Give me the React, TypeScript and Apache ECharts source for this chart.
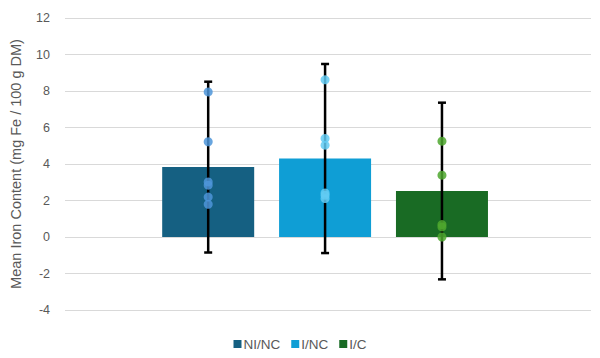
import React, { useEffect, useRef } from "react";
import * as echarts from "echarts";

const groups = ["NI/NC", "I/NC", "I/C"];
const groupX = [1, 2, 3];
const means = [3.83, 4.3, 2.52];
const errors = [4.68, 5.18, 4.84];
const barColors = ["#156082", "#0F9ED5", "#196B24"];
const pointColors = ["#4E95D9", "#61CBF3", "#4EA72E"];
const pointsNINC = [7.95, 5.22, 3.02, 2.84, 2.19, 1.79];
const pointsINC = [8.61, 5.4, 5.03, 2.41, 2.29, 2.11];
const pointsIC = [5.25, 3.39, 0.68, 0.55, 0.0];
const yTicks = [-4, -2, 0, 2, 4, 6, 8, 10, 12];

const FONT = "'Liberation Sans', Arial, sans-serif";
const TEXT = "#595959";

export default function App() {
  const ref = useRef<HTMLDivElement>(null);
  useEffect(() => {
    if (!ref.current) return;
    const chart = echarts.init(ref.current, undefined, { renderer: "svg" });
    const pointSets = [pointsNINC, pointsINC, pointsIC];
    const option: any = {
      animation: false,
      backgroundColor: "#ffffff",
      textStyle: { fontFamily: FONT },
      grid: { left: 60, right: 9, top: 18, bottom: 48 },
      xAxis: {
        type: "value",
        min: -0.225,
        max: 4.275,
        show: false,
      },
      yAxis: {
        type: "value",
        min: yTicks[0],
        max: yTicks[yTicks.length - 1],
        interval: 2,
        name: "Mean Iron Content (mg Fe / 100 g DM)",
        nameLocation: "middle",
        nameGap: 42,
        nameTextStyle: { color: TEXT, fontSize: 14.5, fontFamily: FONT },
        axisLine: { show: false },
        axisTick: { show: false },
        axisLabel: { color: TEXT, fontSize: 12.5, margin: 15, fontFamily: FONT },
        splitLine: { lineStyle: { color: "#D9D9D9", width: 1 } },
      },
      legend: {
        top: 332,
        left: "center",
        itemWidth: 8,
        itemHeight: 8,
        itemGap: 11,
        textStyle: { color: TEXT, fontSize: 13.5, fontFamily: FONT, padding: [0, 0, 0, -3] },
        data: groups.map((g, i) => ({
          name: g,
          icon: "rect",
          itemStyle: { color: barColors[i], opacity: 1 },
        })),
      },
      graphic: [
        {
          type: "line",
          shape: { x1: 0, y1: 0.5, x2: 600, y2: 0.5 },
          style: { stroke: "#D9D9D9", lineWidth: 1 },
        },
      ],
      series: [
        {
          name: "Mean",
          type: "bar",
          barWidth: 92,
          z: 2,
          data: groups.map((g, i) => ({
            value: [groupX[i], means[i]],
            itemStyle: { color: barColors[i] },
          })),
        },
        {
          name: "SD",
          type: "custom",
          z: 3,
          data: groups.map((g, i) => [groupX[i], means[i] + errors[i], means[i] - errors[i]]),
          renderItem: (params: any, api: any) => {
            const x = api.value(0);
            const hi = api.coord([x, api.value(1)]);
            const lo = api.coord([x, api.value(2)]);
            const cap = 4;
            const style = { stroke: "#000000", lineWidth: 2.5 };
            return {
              type: "group",
              children: [
                { type: "line", shape: { x1: hi[0], y1: hi[1], x2: lo[0], y2: lo[1] }, style },
                { type: "line", shape: { x1: hi[0] - cap, y1: hi[1], x2: hi[0] + cap, y2: hi[1] }, style },
                { type: "line", shape: { x1: lo[0] - cap, y1: lo[1], x2: lo[0] + cap, y2: lo[1] }, style },
              ],
            };
          },
        },
        ...groups.map((g, i) => ({
          name: g,
          type: "scatter",
          z: 4,
          symbolSize: 9,
          itemStyle: { color: pointColors[i], opacity: 0.85 },
          data: pointSets[i].map((v) => [groupX[i], v]),
        })),
      ],
    };
    chart.setOption(option);
    return () => chart.dispose();
  }, []);
  return <div ref={ref} style={{ width: 600, height: 358, margin: -8 }} />;
}
